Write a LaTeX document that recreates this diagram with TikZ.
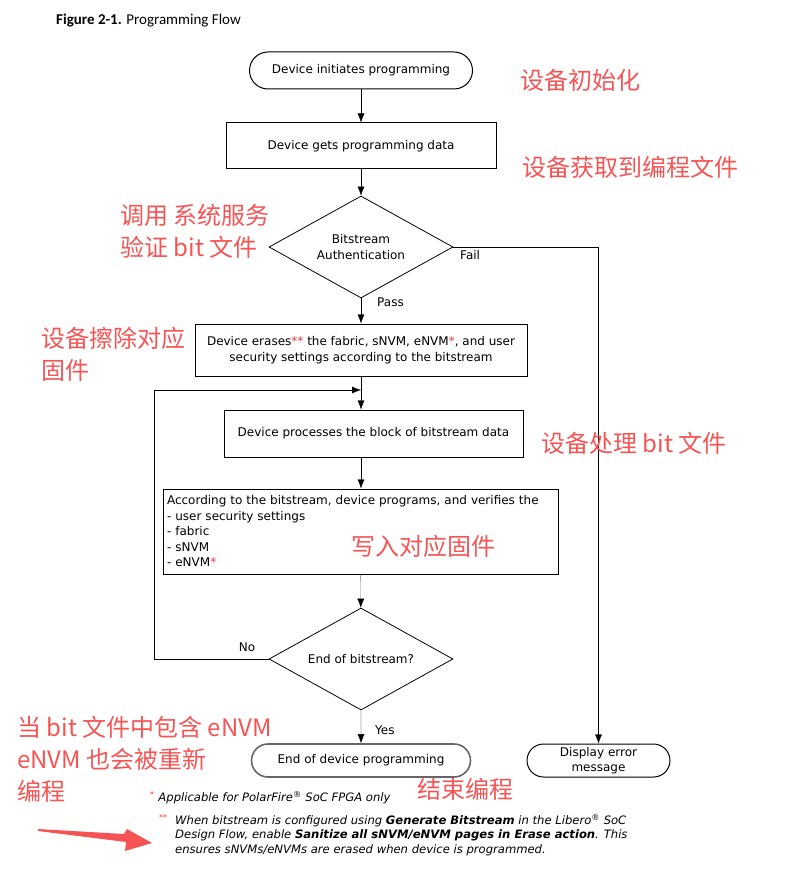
\documentclass[tikz,border=0pt]{standalone}
\usepackage{fontspec}
\usepackage{xcolor}
\usepackage{tikz}
\usetikzlibrary{arrows.meta}
\usetikzlibrary{positioning}
\usetikzlibrary{shapes.geometric,shapes.misc}
\usetikzlibrary{calc}
\newfontfamily\boxfont{DejaVu Sans}[ItalicFont={DejaVu Sans Oblique},BoldItalicFont={DejaVu Sans Bold Oblique}]
\newfontfamily\titlefont{Carlito}
\newfontfamily\notefont{Noto Sans CJK SC}
\definecolor{annot}{RGB}{246,84,84}
\definecolor{starred}{RGB}{240,50,50}
\tikzset{
  flownode/.style = {align=center, inner sep=0pt, draw=black, line width=1pt,
    font=\boxfont\fontsize{12}{15.5}\selectfont},
  flow_t/.style = {flownode, rounded rectangle, minimum width=223pt,
    minimum height=37pt},% terminal
  flow_b/.style = {flownode, rectangle},% process box
  flow_d/.style = {flownode, diamond, shape aspect=1.8, line width=0.8pt,
    minimum width=184pt, minimum height=102pt},% decision
  flow_l/.style = {inner sep=0pt, font=\boxfont\fontsize{12}{14}\selectfont},% branch label
  foot/.style = {inner sep=0pt, align=left,
    font=\boxfont\itshape\fontsize{11.6}{14.5}\selectfont},% footnote
  note_r/.style = {annot, align=left, inner sep=0pt, anchor=west,
    font=\notefont\fontsize{24}{32}\selectfont}% red note
}

\begin{document}
\begin{tikzpicture}[x=1pt, y=-1pt, ->, >={Latex[length=9pt,width=7pt]}]
\useasboundingbox (0,0) rectangle (793,874);
\node [anchor=west, inner sep=0pt, font=\titlefont\fontsize{15}{17}\selectfont] (title) at (56,21)
  {\textbf{Figure 2-1.} Programming Flow};

% flow
\node [flow_t] (start) at (361,70.5) {Device initiates programming};
\node [flow_b, minimum width=270pt, minimum height=46pt] (data) at (361,146) {Device gets programming data};
\node [flow_d] (auth) at (361,247) {Bitstream\\Authentication};
\node [flow_b, minimum width=332pt, minimum height=52pt] (erase) at (361,350)
  {Device erases\textcolor{starred}{**} the fabric, sNVM, eNVM\textcolor{starred}{*}, and user\\security settings according to the bitstream};
\node [flow_b, minimum width=299pt, minimum height=47pt] (proc) at (373.5,433.5) {Device processes the block of bitstream data};
\node [flow_b, align=left, text width=387pt, inner sep=4pt, minimum height=85pt] (prog) at (360.5,531.5)
  {According to the bitstream, device programs, and verifies the\\- user security settings\\- fabric\\- sNVM\\- eNVM\textcolor{starred}{*}};
\node [flow_d] (endq) at (361,659) {End of bitstream?};
\node [flow_t, minimum width=219pt, minimum height=33pt, draw=black!60, line width=1.6pt] (done) at (361,760.5) {End of device programming};
\node [flow_t, minimum width=143pt, minimum height=33pt] (err) at (598.5,760.5) {Display error\\message};

% connectors
\draw (start) -- (data);
\draw (data) -- (auth);
\draw (auth) -- (erase);
\draw (erase.south) -- (erase.south |- proc.north);
\draw (erase.south |- proc.south) -- (prog.north -| erase.south);
\draw [black!55, -{Latex[length=9pt,width=7pt,black]}] (prog) -- (endq);
\draw (endq) -- (done);
\draw (auth.east) -| (err.north);
\coordinate (back) at (154,390);
\draw (endq.west) -| (back) -- (erase.south |- back);

\node [flow_l, anchor=west] (fail) at (460,255) {Fail};
\node [flow_l, anchor=west] (pass) at (377,302) {Pass};
\node [flow_l] (no) at (247,647) {No};
\node [flow_l, anchor=west] (yes) at (375,730) {Yes};

% footnotes
\node [foot, anchor=west] (fn1) at (150,798)
  {\textcolor{starred}{\textsuperscript{*}} Applicable for PolarFire\textsuperscript{®} SoC FPGA only};
\node [foot, anchor=north west] (fn2) at (175,814)
  {When bitstream is configured using \textbf{Generate Bitstream} in the Libero\textsuperscript{®} SoC\\Design Flow, enable \textbf{Sanitize all sNVM/eNVM pages in Erase action}. This\\ensures sNVMs/eNVMs are erased when device is programmed.};
\node [foot, anchor=north east, xshift=-7pt] (fn2star) at (fn2.north west) {\textcolor{starred}{\textsuperscript{**}}};

% red notes
\node [note_r] (n_init) at (520,80) {设备初始化};
\node [note_r] (n_data) at (522,167) {设备获取到编程文件};
\node [note_r] (n_auth) at (120,231) {调用 系统服务\\验证 bit 文件};
\node [note_r] (n_erase) at (41,354.5) {设备擦除对应\\固件};
\node [note_r] (n_proc) at (541,443) {设备处理 bit 文件};
\node [note_r] (n_prog) at (351,546) {写入对应固件};
\node [note_r] (n_envm) at (17,759.5) {当 bit 文件中包含 eNVM\\eNVM 也会被重新\\编程};
\node [note_r] (n_done) at (417,789) {结束编程};
\fill [annot, -] (38,829) -- (124,834) -- (127,829) -- (152,843) -- (125,851) -- (126,842) -- (38,831) -- cycle;
\end{tikzpicture}
\end{document}
